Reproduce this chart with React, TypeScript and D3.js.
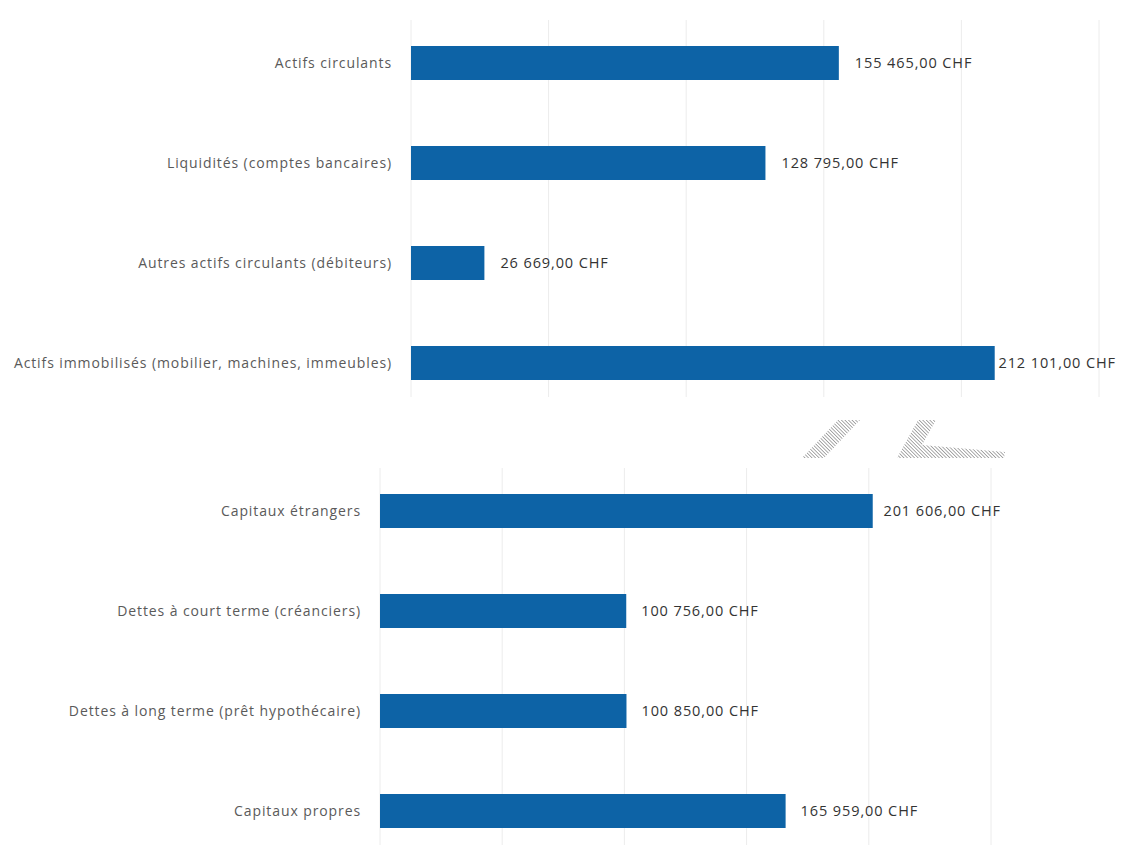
import { useEffect, useRef } from "react"
import * as d3 from "d3"

// Bilan – actifs
const assetLabels = [
  "Actifs circulants",
  "Liquidités (comptes bancaires)",
  "Autres actifs circulants (débiteurs)",
  "Actifs immobilisés (mobilier, machines, immeubles)",
]
const assetValues = [155465, 128795, 26669, 212101]

// Bilan – passifs
const liabilityLabels = [
  "Capitaux étrangers",
  "Dettes à court terme (créanciers)",
  "Dettes à long terme (prêt hypothécaire)",
  "Capitaux propres",
]
const liabilityValues = [201606, 100756, 100850, 165959]

const gridTicks = [0, 50000, 100000, 150000, 200000, 250000]

const W = 1121
const H = 850
const BAR = "#0d63a6"
const FONT = "'Open Sans', sans-serif"

const chf = d3.formatLocale({
  decimal: ",",
  thousands: " ",
  grouping: [3],
  currency: ["", " CHF"],
})
const fmt = (v: number) => chf.format(",.2f")(v) + " CHF"

type Panel = {
  labels: string[]
  values: number[]
  x0: number
  x250: number
  y0: number
  y1: number
  labelLimit: number
  gap: number
}

export default function App() {
  const svgRef = useRef<SVGSVGElement>(null)

  useEffect(() => {
    if (!svgRef.current) return
    const svg = d3.select(svgRef.current)
    svg.selectAll("*").remove()

    const panels: Panel[] = [
      { labels: assetLabels, values: assetValues, x0: 411, x250: 1099, y0: 13, y1: 413, labelLimit: 1116, gap: 16 },
      { labels: liabilityLabels, values: liabilityValues, x0: 380, x250: 991, y0: 461, y1: 861, labelLimit: 1001, gap: 15 },
    ]

    panels.forEach((p) => {
      const x = d3.scaleLinear().domain([0, 250000]).range([p.x0, p.x250])
      const y = d3.scaleBand<string>()
        .domain(p.labels)
        .range([p.y0, p.y1])
        .paddingInner(0.66)
        .paddingOuter(0.33)

      const g = svg.append("g")

      // gridlines
      g.selectAll("line.grid").data(gridTicks).enter()
        .append("line")
        .attr("class", "grid")
        .attr("x1", d => x(d)).attr("x2", d => x(d))
        .attr("y1", p.y0 + 7).attr("y2", p.y1 - 16)
        .attr("stroke", "#ececec")
        .attr("stroke-width", 1)

      // bars
      g.selectAll("rect").data(p.values).enter()
        .append("rect")
        .attr("x", x(0))
        .attr("y", (_, i) => y(p.labels[i]) as number)
        .attr("width", d => x(d) - x(0))
        .attr("height", y.bandwidth())
        .attr("fill", BAR)

      // category labels
      g.selectAll("text.cat").data(p.labels).enter()
        .append("text")
        .attr("class", "cat")
        .attr("x", x(0) - 19)
        .attr("y", d => (y(d) as number) + y.bandwidth() / 2)
        .attr("dy", "0.35em")
        .attr("text-anchor", "end")
        .attr("font-family", FONT)
        .attr("font-size", 14)
        .attr("letter-spacing", 0.9)
        .attr("fill", "#5a5a5a")
        .text(d => d)

      // value labels
      g.selectAll("text.val").data(p.values).enter()
        .append("text")
        .attr("class", "val")
        .attr("y", (_, i) => (y(p.labels[i]) as number) + y.bandwidth() / 2)
        .attr("dy", "0.35em")
        .attr("font-family", FONT)
        .attr("font-size", 14.5)
        .attr("letter-spacing", 0.9)
        .attr("fill", "#333")
        .text(d => fmt(d))
        .each(function (d) {
          const el = this as SVGTextElement
          const w = el.getComputedTextLength()
          const xs = Math.min(x(d) + p.gap, p.labelLimit - w)
          el.setAttribute("x", String(xs))
        })
    })

    // scan artefacts between the two panels
    const defs = svg.append("defs")
    const pat = defs.append("pattern")
      .attr("id", "hatch")
      .attr("width", 2.5).attr("height", 2.5)
      .attr("patternUnits", "userSpaceOnUse")
      .attr("patternTransform", "rotate(-45)")
    pat.append("line")
      .attr("x1", 0).attr("y1", 0).attr("x2", 0).attr("y2", 2.5)
      .attr("stroke", "#666").attr("stroke-width", 1.1)

    const art = svg.append("g").attr("fill", "url(#hatch)")
    art.append("path").attr("d", "M838,420 L860,420 L824,458 L802,458 Z")
    art.append("path").attr("d", "M918,420 L936,420 L922,445 L1005,452 L1004,458 L897,458 Z")
  }, [])

  return (
    <div style={{ position: "absolute", left: 0, top: 0, width: W, height: H, background: "#fff" }}>
      <svg ref={svgRef} width={W} height={H} viewBox={`0 0 ${W} ${H}`} style={{ display: "block" }} />
    </div>
  )
}
